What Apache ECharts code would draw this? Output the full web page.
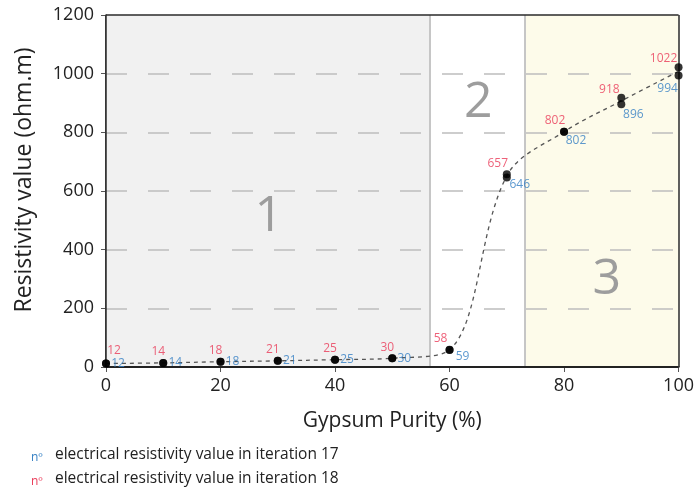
<!DOCTYPE html>
<html>
<head>
<meta charset="utf-8">
<script src="https://cdn.jsdelivr.net/npm/echarts@6/dist/echarts.min.js"></script>
<style>html,body{margin:0;padding:0;background:#fff}#c{width:697px;height:495px}</style>
</head>
<body>
<div id="c"></div>
<script>
const purity = [0, 10, 20, 30, 40, 50, 60, 70, 80, 90, 100];
const iter17 = [12, 14, 18, 21, 25, 30, 59, 646, 802, 896, 994];
const iter18 = [12, 14, 18, 21, 25, 30, 58, 657, 802, 918, 1022];
const zoneBounds = [0, 56.5, 73.2, 100];
const zoneNames = ['1', '2', '3'];
const yTicks = [0, 200, 400, 600, 800, 1000, 1200];
const xTicks = [0, 20, 40, 60, 80, 100];
const legendTexts = ['electrical resistivity value in iteration 17', 'electrical resistivity value in iteration 18'];

const RED = '#ea3a58', BLUE = '#3580c4';
const FONT = 'Open Sans';
const yMin = yTicks[0], yMax = yTicks[yTicks.length - 1];
const xMin = xTicks[0], xMax = xTicks[xTicks.length - 1];

const chart = echarts.init(document.getElementById('c'), null, {renderer: 'canvas'});

const meanLine = purity.map((x, i) => [x, (iter17[i] + iter18[i]) / 2]);

const redData = purity.map((x, i) => {
  let off = [-9, -11];
  if (i === 0) off = [8, -13];
  else if (i < 6) off = [-5, -11];
  else if (i === 9) off = [-12, -8];
  else if (i === 10) off = [-15, -9];
  return {value: [x, iter18[i]], label: {offset: off}};
});
const blueData = purity.map((x, i) => {
  let off = [12, 0];
  if (i >= 6) off = [13, 7];
  if (i === 8) off = [12, 9];
  if (i === 9) off = [12, 10];
  if (i === 10) off = [-11, 13];
  return {value: [x, iter17[i]], label: {offset: off}};
});

const zoneLabel = (off) => ({
  show: true, position: 'inside', offset: off,
  fontFamily: FONT, fontSize: 50, color: '#9d9d9d'
});

const gridLines = yTicks.slice(1, -1).map(v => ({
  yAxis: v, lineStyle: {color: '#bdbdbd', width: 1.5, type: [21, 21]}
}));
const frameStyle = {color: '#2a2a2a', width: 1.5, type: 'solid'};
const zoneLineStyle = {color: '#c6c6c6', width: 2, type: 'solid'};

const option = {
  animation: false,
  grid: {left: 106, right: 15, top: 15, bottom: 128},
  xAxis: {
    type: 'value', min: xMin, max: xMax, interval: 20,
    name: 'Gypsum Purity (%)', nameLocation: 'middle', nameGap: 44,
    nameTextStyle: {fontFamily: FONT, fontSize: 21, color: '#222'},
    axisLine: {lineStyle: {color: '#222', width: 2}},
    axisTick: {show: true, length: 5, lineStyle: {color: '#555'}},
    axisLabel: {fontFamily: FONT, fontSize: 18, color: '#222', margin: 10},
    splitLine: {show: false}
  },
  yAxis: {
    type: 'value', min: yMin, max: yMax, interval: 200,
    name: 'Resistivity value (ohm.m)', nameLocation: 'middle', nameGap: 70,
    nameTextStyle: {fontFamily: FONT, fontSize: 23, color: '#222', padding: [0, 0, 0, 22]},
    axisLine: {show: true, lineStyle: {color: '#222', width: 1.5}},
    axisTick: {show: true, length: 5, lineStyle: {color: '#555'}},
    axisLabel: {fontFamily: FONT, fontSize: 18, color: '#222', margin: 12, formatter: v => String(v)},
    splitLine: {show: false}
  },
  series: [
    {
      type: 'line', data: [], silent: true,
      markArea: {
        silent: true,
        data: [
          [{xAxis: zoneBounds[0], itemStyle: {color: '#f1f1f1'}, label: zoneLabel([1, 26])}, {xAxis: zoneBounds[1]}],
          [{xAxis: zoneBounds[1], itemStyle: {color: 'rgba(255,255,255,0)'}, label: zoneLabel([1, -88])}, {xAxis: zoneBounds[2]}],
          [{xAxis: zoneBounds[2], itemStyle: {color: '#fdfbea'}, label: zoneLabel([5, 89])}, {xAxis: zoneBounds[3]}]
        ].map((d, i) => { d[0].name = zoneNames[i]; return d; })
      },
      markLine: {
        silent: true, symbol: 'none', label: {show: false},
        data: gridLines.concat([
          {xAxis: zoneBounds[1], lineStyle: zoneLineStyle},
          {xAxis: zoneBounds[2], lineStyle: zoneLineStyle},
          {yAxis: yMax, lineStyle: frameStyle},
          {xAxis: xMax, lineStyle: frameStyle},
          {xAxis: xMin, lineStyle: frameStyle},
          {yAxis: yMin, lineStyle: {color: '#222', width: 2, type: 'solid'}}
        ])
      }
    },
    {
      type: 'line', data: meanLine, smooth: 0.35, showSymbol: false, z: 6,
      lineStyle: {color: '#555', width: 1.3, type: [4, 4]}
    },
    {
      type: 'scatter', data: blueData, symbolSize: 8, z: 7,
      itemStyle: {color: '#000'},
      label: {show: true, position: 'inside', formatter: p => p.value[1], color: BLUE, fontFamily: FONT, fontSize: 12}
    },
    {
      type: 'scatter', data: redData, symbolSize: 8, z: 7,
      itemStyle: {color: '#000'},
      label: {show: true, position: 'inside', formatter: p => p.value[1], color: RED, fontFamily: FONT, fontSize: 12}
    }
  ],
  graphic: [
    {type: 'text', left: 31, top: 452, style: {text: 'nº', fontFamily: FONT, fontSize: 12, fill: BLUE}},
    {type: 'text', left: 55, top: 447, style: {text: legendTexts[0], fontFamily: FONT, fontSize: 15.5, fill: '#222'}},
    {type: 'text', left: 31, top: 476, style: {text: 'nº', fontFamily: FONT, fontSize: 12, fill: RED}},
    {type: 'text', left: 55, top: 471, style: {text: legendTexts[1], fontFamily: FONT, fontSize: 15.5, fill: '#222'}}
  ]
};
chart.setOption(option);
</script>
</body>
</html>
